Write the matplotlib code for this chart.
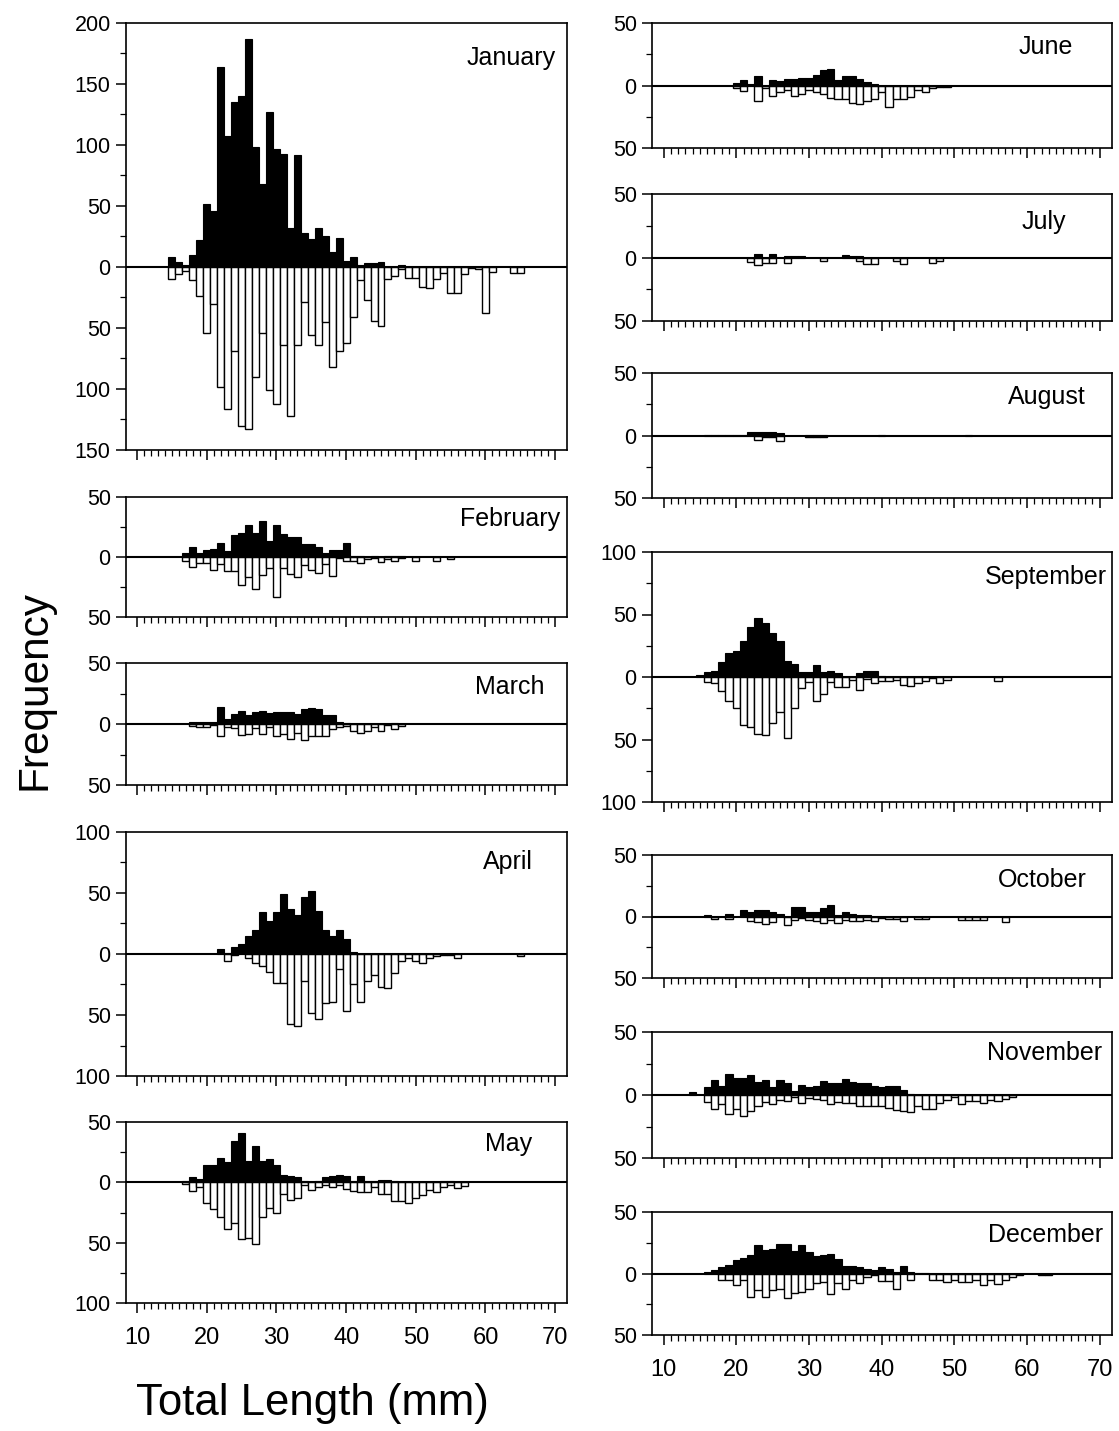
import matplotlib
matplotlib.use("Agg")
import matplotlib.pyplot as plt
from matplotlib.ticker import MultipleLocator, FixedLocator, FuncFormatter
import numpy as np

plt.rcParams['font.family'] = ['Liberation Sans', 'DejaVu Sans']

# length classes (mm) and counts; "up" = black bars, "down" = white bars
jan_len = np.arange(15, 66)
jan_up = [8, 4, 2, 10, 22, 52, 46, 164, 107, 135, 140, 187, 98, 68, 127, 97, 93, 32, 92, 28,
          23, 32, 25, 12, 24, 5, 8, 2, 3, 3, 4, 0, 0, 2, 0, 0, 0, 0, 0, 0,
          0, 0, 0, 0, 0, 0, 0, 0, 0, 0, 0]
jan_down = [10, 6, 3, 11, 24, 54, 30, 98, 116, 69, 130, 133, 90, 54, 101, 112, 64, 122, 64, 29,
            56, 64, 45, 82, 69, 62, 41, 11, 27, 44, 48, 10, 7, 2, 9, 9, 16, 17, 10, 5,
            21, 21, 6, 1, 2, 38, 4, 0, 0, 5, 5]

feb_len = np.arange(17, 56)
feb_up = [3, 8, 3, 5.5, 7, 12, 5, 18, 20, 27, 20, 30, 13, 27, 19, 17, 17, 11, 11, 8,
          3, 6, 6, 12, 1, 1, 0, 0.5, 0, 1, 0.5, 0.5, 0, 0, 0, 0, 0, 0, 0]
feb_down = [3, 8, 5, 5, 11, 6, 12, 12, 23, 17, 27, 15, 9, 33, 9, 14, 17, 7, 11, 13,
            6, 16, 1, 3, 3, 5, 1.5, 1, 4, 2, 3, 1, 0, 3.5, 0, 0, 3, 0, 2]

mar_len = np.arange(18, 49)
mar_up = [2, 1.5, 1.5, 2, 14, 4, 8.5, 11, 7, 10, 11, 9, 10, 10, 10, 8.5, 12, 13, 12, 7,
          7, 2, 1, 0, 0, 0, 0, 0, 0, 0.5, 0]
mar_down = [1.5, 2.5, 2.5, 0.5, 10, 2.5, 3, 9, 8, 3, 8, 2.5, 10, 8, 12, 7, 13, 10, 10, 10,
            4, 2.5, 2, 6, 7, 6, 2.5, 6, 0.5, 4, 1.5]

apr_len = np.arange(22, 66)
apr_up = [4, 0.5, 6, 8, 15, 20, 34.5, 27, 34.5, 49, 37, 32, 47, 51.5, 35, 20, 15, 20, 12, 1.5,
          0, 0, 0, 0, 0, 0, 0, 0, 0, 0, 0, 0, 0, 0, 0, 0, 0, 0, 0, 0,
          0, 0, 0, 0]
apr_down = [0, 5.5, 0.5, 0, 3.3, 7.4, 10, 15, 24, 24, 57, 59, 22, 48, 53, 40, 39, 12, 47, 25,
            39, 22, 17, 27, 28, 15.6, 5.5, 3.3, 5.5, 7.4, 3.3, 2, 0.5, 1, 3.3, 0, 0, 0, 0, 0,
            0, 0, 0, 1.4]

may_len = np.arange(17, 58)
may_up = [1.4, 4.7, 3, 14.7, 14.7, 20, 16.7, 34, 41, 17.5, 30, 17.5, 19.4, 14, 6.4, 5.5, 4.2, 1, 0, 1.4,
          4.2, 5.5, 6.4, 5.5, 1.4, 5.5, 1.4, 1, 2, 2, 1, 0.5, 0.5, 0.5, 0.5, 0.5, 0, 1, 1, 0,
          0]
may_down = [1.4, 7, 4, 17.5, 22, 29, 39, 34, 47, 46, 51, 29, 21, 25, 9.7, 14.7, 13, 2, 6.4, 3.6,
            2, 3.6, 2, 5.5, 7, 8.3, 8.3, 4.2, 9.7, 9.7, 15.8, 15.8, 17.5, 13, 10.3, 6.4, 8.3, 3.6, 2, 4.7,
            2.8]

jun_len = np.arange(20, 50)
jun_up = [2, 4, 1, 7.4, 0, 4, 3.4, 4.8, 4.8, 6, 6, 8.7, 12, 13, 4.2, 7.4, 7.4, 5.3, 2.6, 1,
          0, 0, 0, 0, 0, 0, 0.5, 0, 0, 0]
jun_down = [2, 4, 0, 12, 2, 8, 5.3, 3.2, 8, 7, 3.2, 5.3, 7, 10.3, 11, 11, 13.8, 15, 12, 11,
            5.3, 17, 11, 11, 9, 3.2, 5.3, 2, 1.3, 1]

jul_len = np.arange(22, 49)
jul_up = [0, 2.6, 0, 2.6, 0, 0.8, 1.3, 1.3, 0, 0, 0, 0, 0, 1.6, 0.8, 0.8, 0, 0, 0, 0,
          0, 0, 0, 0, 0, 0, 0]
jul_down = [3.7, 5.8, 4, 4.5, 0, 4, 0, 0, 0, 0, 2.6, 0, 0, 0, 0, 2.4, 5, 5, 0, 0,
            2.4, 5, 0, 0, 0, 4, 2.4]

aug_len = np.arange(16, 53)
aug_up = [0.5, 0.5, 0.5, 0.5, 0.5, 0.5, 3, 3, 3, 3, 2, 0, 0, 0, 0.8, 0.8, 0.8, 0, 0, 0,
          0, 0, 0, 0, 0.5, 0, 0, 0, 0, 0, 0, 0, 0, 0, 0, 0, 0.5]
aug_down = [0, 0, 0, 0, 0, 0, 0, 3.2, 1.3, 1.3, 4, 0, 0, 0, 1, 1, 1, 0, 0, 0,
            0, 0, 0, 0, 0, 0, 0, 0, 0, 0, 0, 0, 0, 0, 0, 0, 0]

sep_len = np.arange(15, 57)
sep_up = [2, 3.7, 5, 12, 19, 21, 29, 40, 47.6, 43, 35, 29, 12.5, 10.4, 3.7, 3.7, 9.3, 3.7, 5, 3.2,
          0, 0, 3.2, 4.5, 5, 0.5, 0, 0, 0, 0, 0, 0, 0, 0, 0, 0, 0, 0, 0, 0,
          0, 0]
sep_down = [0, 4, 4.8, 11.4, 18.9, 24.7, 38, 40, 45.5, 46, 36.7, 28, 48.7, 24.7, 8.8, 4, 18.9, 13.6, 4, 8.2,
            8.2, 2, 10, 1.3, 4.8, 3.5, 3.5, 2, 6, 7.4, 4.8, 3, 0.8, 4.8, 2.7, 0, 0, 0, 0, 0,
            0, 3]

oct_len = np.arange(16, 58)
oct_up = [1.4, 0, 0, 2, 0, 4.9, 4, 5.4, 4.9, 4, 2, 0, 8, 8, 4, 4, 7.3, 9, 1.4, 4,
          2, 1.4, 1.4, 0, 0, 0, 0, 0, 0, 0, 0, 0, 0, 0, 0, 0, 0, 0, 0, 0,
          0, 0]
oct_down = [0, 2.2, 0, 2.2, 0, 0, 3.5, 4.6, 6.2, 4.6, 0, 7.3, 2.7, 1.4, 2.7, 3.5, 5.4, 2.7, 5.4, 2.7,
            3.5, 3.5, 2.7, 3.5, 1.4, 2, 2, 3.5, 0, 2, 2, 0, 0, 0, 0, 2.7, 2.7, 2.7, 2.7, 0,
            0, 4.6]

nov_len = np.arange(14, 59)
nov_up = [2, 0, 6.6, 11.8, 7.4, 17, 13.4, 13.4, 15.8, 10, 11.8, 6, 12, 9.2, 3.4, 8.2, 6, 7.4, 10.8, 9.2,
          9.2, 13, 10, 9.2, 9.2, 7.4, 6.6, 6.8, 6.8, 4, 0.8, 0, 0, 0, 0, 0, 0, 0, 0, 0,
          0, 0, 0, 0, 0]
nov_down = [0, 0, 5.8, 11, 7, 15, 11, 16.3, 13, 8.4, 5.3, 7, 4, 5, 1.8, 6.6, 2.4, 3.2, 4, 7,
            5.8, 6.6, 6.6, 8.4, 8.4, 8.4, 8.4, 10.3, 11.8, 13, 13.7, 8.4, 11, 11, 6.6, 4, 1.8, 7, 5, 5,
            6.6, 4, 4.5, 3.2, 1.8]

dec_len = np.arange(16, 64)
dec_up = [1, 2.7, 5.4, 6.8, 10.8, 12.2, 14.9, 23.5, 19.5, 20.3, 24.3, 23.8, 18, 23, 17.6, 14, 14.9, 16.2, 11.4, 6,
          6, 4.9, 4, 2.7, 5.4, 4, 1.4, 6, 1.4, 0.8, 0.8, 0, 0, 0, 0, 0, 0, 0, 0, 0,
          0, 0, 0, 0, 0, 0, 0, 0]
dec_down = [0, 0, 4.9, 4.9, 9.5, 4.9, 19, 13.5, 19.5, 13.5, 13, 20.3, 16.2, 14.9, 12.2, 8.1, 6.8, 17, 8.1, 13,
            4.9, 8.1, 3.2, 1.4, 6.2, 6.2, 12.2, 0, 5.4, 0, 0, 5.4, 5.4, 7.3, 5.4, 7.3, 7.3, 5.4, 9.5, 5.4,
            8.6, 4.9, 3.2, 1.4, 0, 0, 1, 1]

months = ["January", "February", "March", "April", "May", "June",
          "July", "August", "September", "October", "November", "December"]
lengths = [jan_len, feb_len, mar_len, apr_len, may_len, jun_len,
           jul_len, aug_len, sep_len, oct_len, nov_len, dec_len]
ups = [jan_up, feb_up, mar_up, apr_up, may_up, jun_up,
       jul_up, aug_up, sep_up, oct_up, nov_up, dec_up]
downs = [jan_down, feb_down, mar_down, apr_down, may_down, jun_down,
         jul_down, aug_down, sep_down, oct_down, nov_down, dec_down]
ylims = [(-150, 200), (-50, 50), (-50, 50), (-100, 100), (-100, 50), (-50, 50),
         (-50, 50), (-50, 50), (-100, 100), (-50, 50), (-50, 50), (-50, 50)]

# layout in pixels: (left, right, top, bottom) and month label position in axes coords
W, H = 1119, 1431
boxes = [(126, 567, 23, 450), (126, 567, 497, 617), (126, 567, 663, 785),
         (126, 567, 832, 1076), (126, 567, 1122, 1303),
         (652, 1112, 23, 148), (652, 1112, 194, 321), (652, 1112, 373, 498),
         (652, 1112, 552, 802), (652, 1112, 855, 978), (652, 1112, 1032, 1158),
         (652, 1112, 1212, 1335)]
label_pos = [(0.975, 0.918), (0.985, 0.817), (0.95, 0.80), (0.923, 0.877), (0.92, 0.878),
             (0.914, 0.81), (0.90, 0.78), (0.942, 0.81), (0.989, 0.90), (0.945, 0.80),
             (0.978, 0.83), (0.98, 0.81)]

fig = plt.figure(figsize=(W / 100, H / 100), dpi=100)

for i, m in enumerate(months):
    l, r, t, b = boxes[i]
    ax = fig.add_axes([l / W, 1 - b / H, (r - l) / W, (b - t) / H])
    x = np.asarray(lengths[i])
    up = np.asarray(ups[i], dtype=float)
    dn = np.asarray(downs[i], dtype=float)
    ax.bar(x[up > 0], up[up > 0], width=1, align='center', color='black',
           edgecolor='black', linewidth=0.8, zorder=2)
    ax.bar(x[dn > 0], -dn[dn > 0], width=1, align='center', color='white',
           edgecolor='black', linewidth=1.0, zorder=2)
    ax.axhline(0, color='black', lw=1.5, zorder=3)
    ax.set_xlim(8.4, 71.7)
    ax.set_ylim(*ylims[i])
    ax.xaxis.set_major_locator(FixedLocator(range(10, 71, 10)))
    ax.xaxis.set_minor_locator(FixedLocator(range(10, 71)))
    ax.yaxis.set_major_locator(MultipleLocator(50))
    ax.yaxis.set_minor_locator(MultipleLocator(25))
    ax.yaxis.set_major_formatter(FuncFormatter(lambda v, p: f"{abs(v):.0f}"))
    ax.tick_params(axis='both', which='major', direction='out', length=7, width=1.1,
                   labelsize=15.5, pad=4)
    ax.tick_params(axis='both', which='minor', direction='out', length=4, width=0.9)
    ax.tick_params(axis='x', which='major', labelsize=17, pad=10)
    if m not in ("May", "December"):
        ax.tick_params(axis='x', labelbottom=False)
    for s in ax.spines.values():
        s.set_linewidth(1.2)
    ax.text(label_pos[i][0], label_pos[i][1], m, transform=ax.transAxes,
            ha='right', va='center', fontsize=18)

fig.text(312 / W, 1 - 1403 / H, "Total Length (mm)", ha='center', va='center', fontsize=31.5)
fig.text(35 / W, 1 - 690 / H, "Frequency", ha='center', va='center', fontsize=30.5,
         rotation=90)

fig.savefig("out.png", dpi=100)
